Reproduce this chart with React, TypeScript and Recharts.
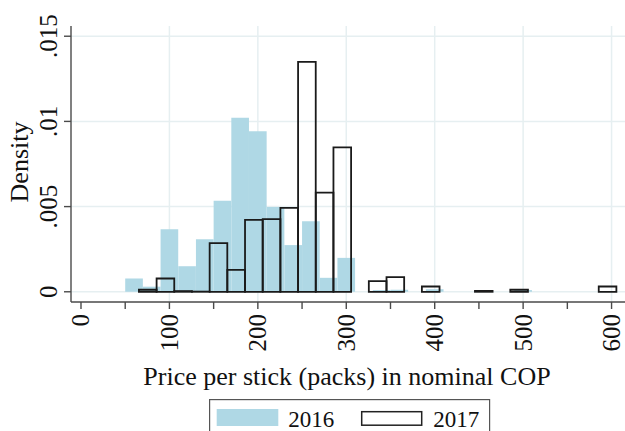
import { Bar, CartesianGrid, ComposedChart, Legend, XAxis, YAxis } from "recharts";

// 2016 histogram: bin centres (width 20) and densities
const BINS_2016 = [60, 80, 100, 120, 140, 160, 180, 200, 220, 240, 260, 280, 300, 340, 360, 400, 500];
const DENSITY_2016 = [
  0.00078, 0.0003, 0.00367, 0.0015, 0.00309, 0.00535, 0.01022, 0.00942, 0.00498,
  0.00274, 0.00414, 0.00082, 0.00199, 0.0001, 0.00012, 0.00015, 0.0001,
];

// 2017 histogram: bin centres (width 20) and densities
const BINS_2017 = [
  75.5, 95.5, 115.5, 135.5, 155.5, 175.5, 195.5, 215.5, 235.5, 255.5, 275.5, 295.5,
  335.5, 355.5, 395.5, 455.5, 495.5, 595.5,
];
const DENSITY_2017 = [
  0.00012, 0.00078, 0.00004, 0.00001, 0.00285, 0.00129, 0.00422, 0.00426, 0.00492,
  0.0135, 0.00582, 0.00848, 0.00063, 0.00086, 0.00031, 0.00005, 0.00012, 0.00031,
];

const X_TICKS = [0, 50, 100, 150, 200, 250, 300, 350, 400, 450, 500, 550, 600];
const X_LABELS = [0, 100, 200, 300, 400, 500, 600];
const X_GRID = [100, 200, 300, 400, 500, 600];
const Y_TICKS = [0, 0.005, 0.01, 0.015];
const X_DOMAIN = [-11.3, 615.2];
const Y_DOMAIN = [-0.0006, 0.0156];

const SERIES = ["2016", "2017"];

const rows2016 = BINS_2016.map((x, i) => ({ x, density: DENSITY_2016[i] }));
const rows2017 = BINS_2017.map((x, i) => ({ x, density: DENSITY_2017[i] }));

const W = 625;
const H = 431;
const MARGIN = { top: 26, right: 0, bottom: 0, left: 0 };
const BAR_PX = 17.65;

const FONT = '"Liberation Serif", "Times New Roman", serif';
const BLUE = "#afd8e5";
const AXIS = "#4a4a4a";
const GRID = "#e6eff1";

function XTick({ x, y, payload }: any) {
  if (!X_LABELS.includes(payload.value)) return null;
  const ty = y + 3;
  return (
    <text
      x={x}
      y={ty}
      dy="0.34em"
      transform={`rotate(-90, ${x}, ${ty})`}
      textAnchor="end"
      fontSize={25}
      fontFamily={FONT}
      fill="#111"
    >
      {payload.value}
    </text>
  );
}

function YTick({ x, y, payload }: any) {
  const v: number = payload.value;
  const label = v === 0 ? "0" : String(v).replace(/^0/, "");
  const tx = x - 5;
  return (
    <text
      x={tx}
      y={y}
      transform={`rotate(-90, ${tx}, ${y})`}
      textAnchor="middle"
      fontSize={25}
      fontFamily={FONT}
      fill="#111"
    >
      {label}
    </text>
  );
}

function HistLegend() {
  return (
    <svg width={300} height={32} style={{ display: "block" }}>
      <rect x={0.6} y={0.6} width={280} height={60} fill="#fff" stroke="#555" strokeWidth={1.2} />
      <rect x={7.7} y={10} width={61.6} height={17} fill={BLUE} />
      <text x={79.3} y={28} fontSize={23} fontFamily={FONT} fill="#111">
        {SERIES[0]}
      </text>
      <rect x={152.7} y={12.7} width={60} height={13.5} fill="none" stroke="#222" strokeWidth={1.5} />
      <text x={224.3} y={28} fontSize={23} fontFamily={FONT} fill="#111">
        {SERIES[1]}
      </text>
    </svg>
  );
}

export default function App() {
  return (
    <div
      style={{
        position: "absolute",
        left: 0,
        top: 0,
        width: W,
        height: H,
        background: "#fff",
        overflow: "hidden",
      }}
    >
      {/* base chart: axes, grid, legend and the filled 2016 bars */}
      <div style={{ position: "absolute", left: 0, top: 0 }}>
        <ComposedChart width={W} height={H} data={rows2016} margin={MARGIN}>
          <CartesianGrid
            stroke={GRID}
            strokeWidth={1.5}
            verticalValues={X_GRID}
            horizontalValues={Y_TICKS}
          />
          <XAxis
            dataKey="x"
            type="number"
            domain={X_DOMAIN}
            allowDataOverflow
            ticks={X_TICKS}
            interval={0}
            tickSize={7}
            height={129}
            stroke={AXIS}
            strokeWidth={1.4}
            tick={<XTick />}
            label={({ viewBox }: any) => (
              <text
                x={viewBox.x + viewBox.width / 2 - 1}
                y={viewBox.y + 83}
                textAnchor="middle"
                fontSize={26}
                fontFamily={FONT}
                fill="#111"
              >
                Price per stick (packs) in nominal COP
              </text>
            )}
          />
          <YAxis
            type="number"
            domain={Y_DOMAIN}
            allowDataOverflow
            ticks={Y_TICKS}
            interval={0}
            tickSize={7}
            width={71}
            stroke={AXIS}
            strokeWidth={1.4}
            tick={<YTick />}
            label={({ viewBox }: any) => {
              const cx = 28;
              const cy = viewBox.y + viewBox.height / 2 - 2;
              return (
                <text
                  x={cx}
                  y={cy}
                  transform={`rotate(-90, ${cx}, ${cy})`}
                  textAnchor="middle"
                  fontSize={26}
                  fontFamily={FONT}
                  fill="#111"
                >
                  Density
                </text>
              );
            }}
          />
          <Bar
            dataKey="density"
            name={SERIES[0]}
            fill={BLUE}
            barSize={BAR_PX}
            isAnimationActive={false}
          />
          <Legend
            layout="horizontal"
            align="center"
            verticalAlign="middle"
            wrapperStyle={{ left: 209, top: 399, width: 300, height: 32 }}
            content={() => <HistLegend />}
          />
        </ComposedChart>
      </div>

      {/* overlay chart with the same plot area: outlined 2017 bars */}
      <div style={{ position: "absolute", left: 0, top: 0, pointerEvents: "none" }}>
        <ComposedChart width={W} height={H} data={rows2017} margin={MARGIN}>
          <XAxis
            dataKey="x"
            type="number"
            domain={X_DOMAIN}
            allowDataOverflow
            height={129}
            axisLine={false}
            tickLine={false}
            tick={false}
          />
          <YAxis
            type="number"
            domain={Y_DOMAIN}
            allowDataOverflow
            width={71}
            axisLine={false}
            tickLine={false}
            tick={false}
          />
          <Bar
            dataKey="density"
            name={SERIES[1]}
            fill="none"
            stroke="#1a1a1a"
            strokeWidth={1.8}
            barSize={BAR_PX}
            isAnimationActive={false}
          />
        </ComposedChart>
      </div>
    </div>
  );
}
